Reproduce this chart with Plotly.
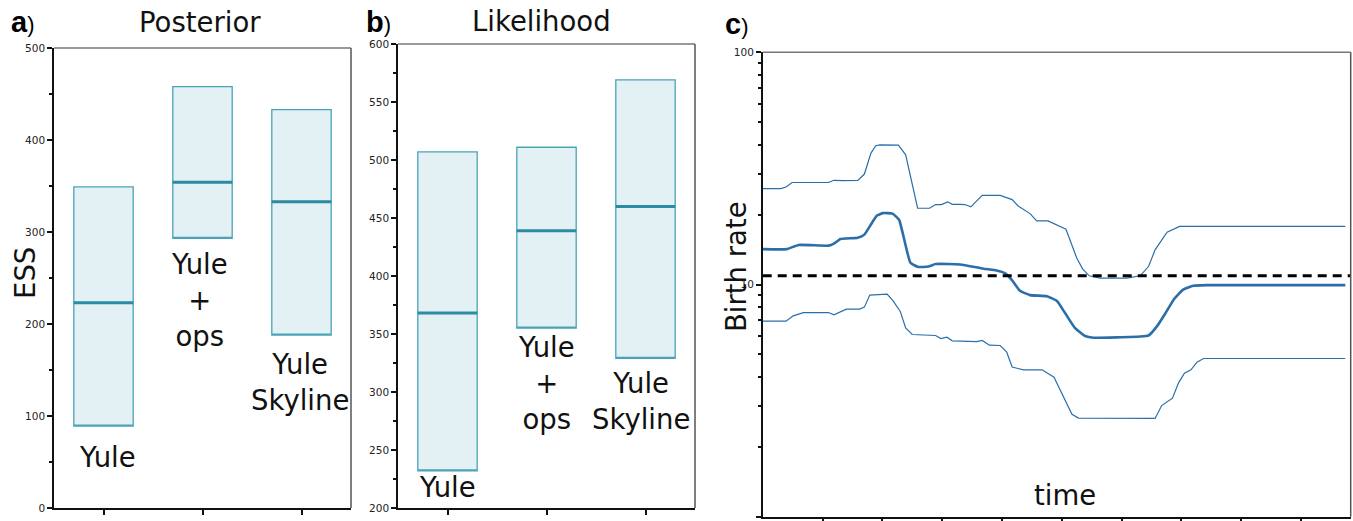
import plotly.graph_objects as go

# ---------------- data ----------------
categories = ["Yule", "Yule + ops", "Yule Skyline"]
category_labels = ["Yule", "Yule<br>+<br>ops", "Yule<br>Skyline"]

# Panel a: Posterior ESS (box = interval, line = median)
post_low = [89, 293, 188]
post_median = [223, 354, 333]
post_high = [349, 458, 433]

# Panel b: Likelihood ESS
lik_low = [232, 355, 329]
lik_median = [368, 439, 460]
lik_high = [507, 511, 569]

# Panel c: birth rate through time (upper bound, median, lower bound)
time_upper = [0, 0.30, 0.39, 0.49, 1.10, 1.19, 1.35, 1.59, 1.70, 1.81, 1.89, 1.96,
              2.27, 2.39, 2.59, 2.79, 2.89, 2.99, 3.09, 3.17, 3.30, 3.38, 3.48,
              3.67, 3.97, 4.17, 4.27, 4.47, 4.58, 4.77, 5.07, 5.25, 5.35, 5.46,
              5.64, 6.09, 6.31, 6.45, 6.56, 6.76, 6.97, 9.74]
rate_upper = [25.9, 25.9, 26.3, 27.5, 27.5, 28.1, 28.0, 28.1, 29.9, 36.8, 39.6, 39.9,
              39.8, 36.2, 21.3, 21.3, 22.1, 22.1, 22.7, 22.15, 22.15, 22.1, 21.6,
              24.2, 24.2, 23.2, 21.8, 20.2, 18.8, 18.8, 17.3, 13.0, 11.65, 10.9,
              10.65, 10.65, 10.9, 11.95, 14.1, 16.8, 17.8, 17.8]

time_median = [0, 0.40, 0.60, 1.10, 1.19, 1.30, 1.59, 1.70, 1.79, 1.91, 2.01, 2.17,
               2.28, 2.47, 2.60, 2.77, 2.89, 3.30, 3.69, 3.91, 4.05, 4.16, 4.30,
               4.47, 4.75, 4.92, 5.06, 5.22, 5.39, 5.53, 6.31, 6.45, 6.59, 6.73,
               6.87, 7.03, 7.20, 7.42, 9.74]
rate_median = [14.2, 14.2, 14.8, 14.7, 15.0, 15.7, 15.9, 16.4, 17.8, 19.8, 20.3, 20.2,
               19.0, 12.4, 11.9, 11.95, 12.25, 12.2, 11.7, 11.5, 11.2, 10.5, 9.4,
               9.0, 8.9, 8.5, 7.5, 6.5, 6.0, 5.9, 5.97, 6.03, 6.6, 7.5,
               8.6, 9.5, 9.87, 9.94, 9.94]

time_lower = [0, 0.39, 0.51, 0.68, 1.10, 1.19, 1.40, 1.62, 1.70, 1.79, 2.08, 2.18,
              2.30, 2.39, 2.50, 2.89, 2.98, 3.08, 3.17, 3.47, 3.58, 3.67, 3.79,
              3.97, 4.08, 4.17, 4.36, 4.67, 4.87, 5.17, 5.28, 6.56, 6.67, 6.85,
              6.95, 7.05, 7.16, 7.26, 7.37, 9.74]
rate_lower = [6.95, 6.95, 7.33, 7.57, 7.57, 7.40, 7.83, 7.83, 7.99, 9.0, 9.09, 8.5,
              7.65, 6.5, 6.09, 6.03, 5.85, 5.93, 5.72, 5.72, 5.68, 5.74, 5.48,
              5.46, 5.11, 4.41, 4.29, 4.29, 3.99, 2.76, 2.66, 2.65, 3.01, 3.24,
              3.76, 4.15, 4.29, 4.63, 4.80, 4.80]

true_rate = 10.9
time_max = 9.83

# ---------------- styles ----------------
BOX_FILL = "#e3f0f4"
BOX_EDGE = "#4aa3b9"
MEDIAN_COL = "#2a8ba2"
CURVE_COL = "#2a6fa9"
BIG_FONT = dict(family="DejaVu Sans", size=27.5, color="#111111")
TICK_FONT = dict(family="DejaVu Sans", size=10.5, color="#222222")

W, H = 1353, 521


def px_x(v):
    return v / W


def px_y(v):
    return 1 - v / H


fig = go.Figure()


def add_boxes(xa, ya, low, med, high):
    fig.add_trace(go.Box(
        x=categories, q1=low, median=low, q3=high, lowerfence=low, upperfence=high,
        xaxis=xa, yaxis=ya, width=0.6, whiskerwidth=0,
        fillcolor=BOX_FILL, line=dict(color=BOX_EDGE, width=1.3),
        hoverinfo="skip", showlegend=False))
    fig.add_trace(go.Box(
        x=categories, q1=med, median=med, q3=med, lowerfence=med, upperfence=med,
        xaxis=xa, yaxis=ya, width=0.6, whiskerwidth=0,
        fillcolor="rgba(0,0,0,0)", line=dict(color=MEDIAN_COL, width=3),
        hoverinfo="skip", showlegend=False))


add_boxes("x", "y", post_low, post_median, post_high)
add_boxes("x2", "y2", lik_low, lik_median, lik_high)

fig.add_trace(go.Scatter(x=time_upper, y=rate_upper, mode="lines", xaxis="x3", yaxis="y3",
                         line=dict(color=CURVE_COL, width=1.2), hoverinfo="skip", showlegend=False))
fig.add_trace(go.Scatter(x=time_median, y=rate_median, mode="lines", xaxis="x3", yaxis="y3",
                         line=dict(color=CURVE_COL, width=2.6, shape="spline", smoothing=0.4),
                         hoverinfo="skip", showlegend=False))
fig.add_trace(go.Scatter(x=time_lower, y=rate_lower, mode="lines", xaxis="x3", yaxis="y3",
                         line=dict(color=CURVE_COL, width=1.2), hoverinfo="skip", showlegend=False))
fig.add_trace(go.Scatter(x=[0, time_max], y=[true_rate, true_rate], mode="lines", xaxis="x3", yaxis="y3",
                         line=dict(color="black", width=3, dash="9px,6px"),
                         hoverinfo="skip", showlegend=False))

cat_axis = dict(showline=True, linecolor="#111111", linewidth=1.5, ticks="outside",
                ticklen=5, tickwidth=1.5, tickcolor="#111111", showticklabels=False,
                showgrid=False, zeroline=False, range=[-0.5, 2.5], fixedrange=True,
                automargin=False)
val_axis = dict(showline=True, linecolor="#111111", linewidth=1.5, ticks="outside",
                ticklen=5, tickwidth=1.5, tickcolor="#111111", tickfont=TICK_FONT,
                showgrid=False, zeroline=False, fixedrange=True, automargin=False)

fig.update_layout(
    width=W, height=H, margin=dict(l=0, r=0, t=0, b=0, pad=0, autoexpand=False),
    paper_bgcolor="white", plot_bgcolor="white", showlegend=False,
    xaxis=dict(cat_axis, domain=[px_x(54), px_x(351)], anchor="y"),
    yaxis=dict(val_axis, domain=[px_y(508), px_y(48)], anchor="x", range=[0, 500],
               tickvals=[0, 100, 200, 300, 400, 500],
               minor=dict(tickvals=[50, 150, 250, 350, 450], ticks="outside", ticklen=3,
                          tickwidth=1.5, tickcolor="#111111")),
    xaxis2=dict(cat_axis, domain=[px_x(398), px_x(695)], anchor="y2"),
    yaxis2=dict(val_axis, domain=[px_y(508), px_y(44)], anchor="x2", range=[200, 600],
                tickvals=list(range(200, 601, 50)),
                minor=dict(tickvals=list(range(225, 600, 50)), ticks="outside", ticklen=3,
                           tickwidth=1.5, tickcolor="#111111")),
    xaxis3=dict(showline=True, linecolor="#111111", linewidth=1.5, ticks="outside",
                ticklen=5, tickwidth=1.5, tickcolor="#111111", showticklabels=False,
                showgrid=False, zeroline=False, range=[0, time_max],
                tickvals=[2, 4, 6, 8],
                minor=dict(tickvals=[1, 3, 5, 7, 9], ticks="outside", ticklen=3,
                           tickwidth=1.5, tickcolor="#111111"),
                domain=[px_x(762.7), px_x(1350.7)], anchor="y3", fixedrange=True,
                automargin=False),
    yaxis3=dict(val_axis, type="log", range=[0, 2], tickvals=[1, 10, 100],
                ticktext=["1", "10", "100"],
                minor=dict(tickvals=[2, 3, 4, 5, 6, 7, 8, 9, 20, 30, 40, 50, 60, 70, 80, 90],
                           ticks="outside", ticklen=3, tickwidth=1.5, tickcolor="#111111"),
                domain=[px_y(516.7), px_y(52.3)], anchor="x3"),
)

# grey top/right frame lines
shapes = []
for xa, ya in (("x", "y"), ("x2", "y2"), ("x3", "y3")):
    shapes.append(dict(type="line", xref=xa + " domain", yref=ya + " domain",
                       x0=0, x1=1, y0=1, y1=1, line=dict(color="#777777", width=1.5)))
    shapes.append(dict(type="line", xref=xa + " domain", yref=ya + " domain",
                       x0=1, x1=1, y0=0, y1=1, line=dict(color="#555555", width=1.5)))
fig.update_layout(shapes=shapes)

ann = []
# category labels inside panels a and b
post_label_y = [55, 226, 137.5]
post_label_shift = [4, -3, -2]
lik_label_y = [218, 308, 292]
lik_label_shift = [0, 0, -5]
for i, lab in enumerate(category_labels):
    ann.append(dict(x=categories[i], y=post_label_y[i], xref="x", yref="y", text=lab,
                    showarrow=False, font=BIG_FONT, xshift=post_label_shift[i],
                    xanchor="center", yanchor="middle", align="center"))
    ann.append(dict(x=categories[i], y=lik_label_y[i], xref="x2", yref="y2", text=lab,
                    showarrow=False, font=BIG_FONT, xshift=lik_label_shift[i],
                    xanchor="center", yanchor="middle", align="center"))

# titles
ann.append(dict(x=px_x(200), y=px_y(22), xref="paper", yref="paper", text="Posterior",
                showarrow=False, font=BIG_FONT, xanchor="center", yanchor="middle"))
ann.append(dict(x=px_x(541), y=px_y(21), xref="paper", yref="paper", text="Likelihood",
                showarrow=False, font=BIG_FONT, xanchor="center", yanchor="middle"))
# axis titles
ann.append(dict(x=px_x(25), y=px_y(273), xref="paper", yref="paper", text="ESS",
                showarrow=False, font=BIG_FONT, textangle=-90, xanchor="center", yanchor="middle"))
ann.append(dict(x=px_x(736), y=px_y(267), xref="paper", yref="paper", text="Birth rate",
                showarrow=False, font=BIG_FONT, textangle=-90, xanchor="center", yanchor="middle"))
ann.append(dict(x=px_x(1065), y=px_y(495), xref="paper", yref="paper", text="time",
                showarrow=False, font=BIG_FONT, xanchor="center", yanchor="middle"))

# panel letters
letter_font = dict(family="Liberation Sans", size=22, color="black")
for letter, lx, ly in (("a", 9, 22), ("b", 364, 22), ("c", 723, 24)):
    ann.append(dict(x=px_x(lx), y=px_y(ly), xref="paper", yref="paper",
                    text="<span style='font-size:29px'><b>%s</b></span>)" % letter,
                    showarrow=False, font=letter_font, xanchor="left", yanchor="middle"))

fig.update_layout(annotations=ann)

fig.write_html("out.html")
